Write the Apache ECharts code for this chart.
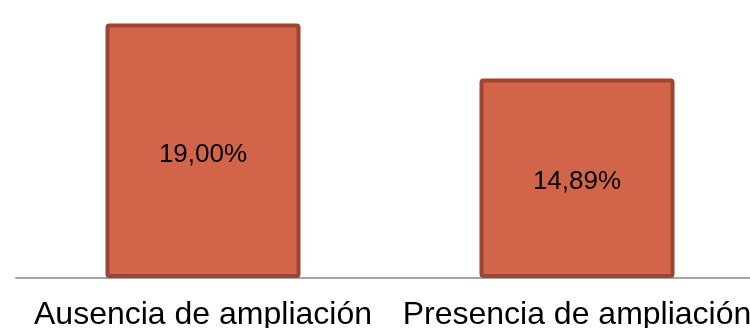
<!DOCTYPE html>
<html>
<head>
<meta charset="utf-8">
<script src="https://cdn.jsdelivr.net/npm/echarts@6/dist/echarts.min.js"></script>
<style>
  html, body { margin: 0; padding: 0; background: #ffffff; }
  #chart { width: 750px; height: 328px; }
</style>
</head>
<body>
<div id="chart"></div>
<script>
// Share of cases by presence of enlargement (percent)
const categories = ['Ausencia de ampliación', 'Presencia de ampliación'];
const values = [19.00, 14.89];

const chart = echarts.init(document.getElementById('chart'), null, { renderer: 'canvas' });

chart.setOption({
  animation: false,
  backgroundColor: '#ffffff',
  // plot area runs slightly past the right edge of the canvas
  grid: {
    left: 16, width: 748, top: 10, bottom: 50,
    containLabel: false,
    outerBoundsMode: 'none'
  },
  xAxis: {
    type: 'category',
    data: categories,
    axisLine: { show: true, lineStyle: { color: '#a6a6a6', width: 2 } },
    axisTick: { show: false },
    axisLabel: {
      color: '#000000',
      fontFamily: 'Liberation Sans, Arial, sans-serif',
      fontSize: 32,
      margin: 21,
      interval: 0
    }
  },
  yAxis: {
    type: 'value',
    min: 0,
    max: 20,
    show: false,
    splitLine: { show: false }
  },
  series: [{
    type: 'bar',
    data: values,
    barWidth: 195,
    itemStyle: {
      color: '#d2644a',
      borderColor: '#9d4533',
      borderWidth: 4,
      borderRadius: 2
    },
    label: {
      show: true,
      position: 'inside',
      offset: [0, 4],
      color: '#000000',
      fontFamily: 'Liberation Sans, Arial, sans-serif',
      fontSize: 26,
      formatter: p => p.value.toFixed(2).replace('.', ',') + '%'
    }
  }]
});
</script>
</body>
</html>
